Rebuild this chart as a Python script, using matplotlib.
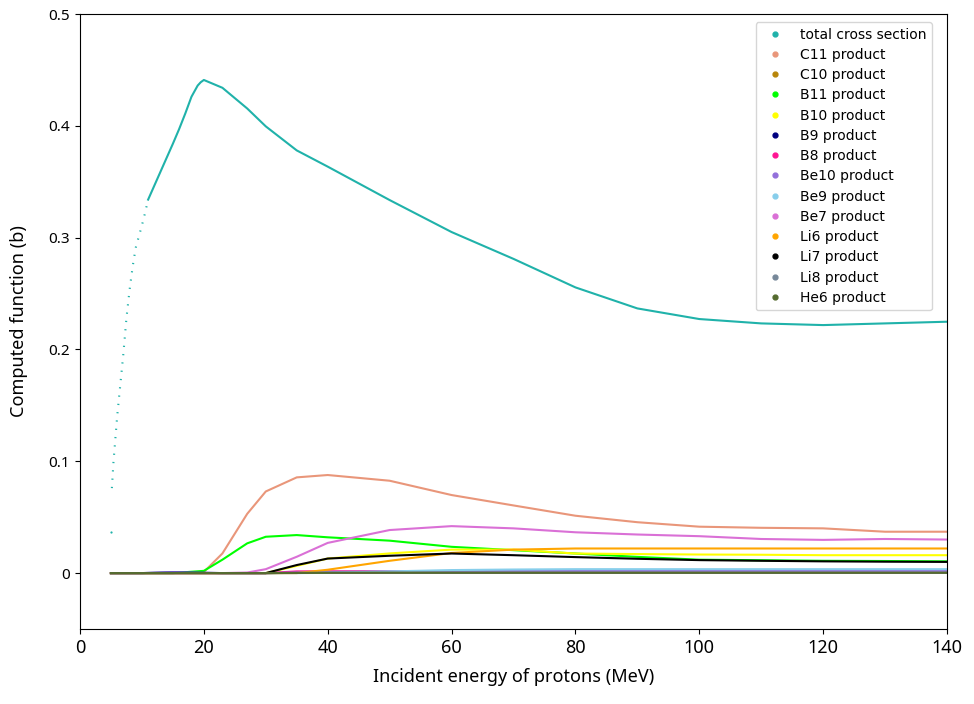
import numpy as np
import matplotlib
matplotlib.use("Agg")
import matplotlib.pyplot as plt
from matplotlib.lines import Line2D
from matplotlib.ticker import FuncFormatter

# total cross section (b) vs proton energy (MeV)
E_tot = [5.0, 5.15, 5.4, 6.0, 6.5, 7.0, 7.5, 8.0, 8.5, 9.0, 9.5, 10.0, 10.5, 11.0,
         13.0, 15.0, 16.0, 17.0, 18.0, 19.0, 19.5, 20.0, 23.0, 27.0, 30.0, 35.0,
         40.0, 50.0, 60.0, 70.0, 80.0, 90.0, 100.0, 110.0, 120.0, 130.0, 140.0]
sigma_tot = [0.037, 0.076, 0.099, 0.140, 0.168, 0.196, 0.228, 0.253, 0.274, 0.291,
             0.301, 0.311, 0.322, 0.334, 0.359, 0.384, 0.397, 0.411, 0.426, 0.436,
             0.439, 0.441, 0.434, 0.4155, 0.3995, 0.378, 0.3635, 0.3336, 0.305,
             0.281, 0.2555, 0.2367, 0.2272, 0.2233, 0.2218, 0.2233, 0.2248]

# product cross sections on a common energy grid
E_prod = [5, 10, 15, 20, 23, 27, 30, 35, 40, 50, 60, 70, 80, 90, 100, 110, 120, 130, 140]
C11 = [0, 0, 0, 0.001, 0.0176, 0.053, 0.073, 0.0856, 0.0877, 0.0826, 0.0698, 0.0605,
       0.0513, 0.0455, 0.0415, 0.0405, 0.040, 0.037, 0.037]
C10 = [0, 0, 0, 0, 0, 0, 0, 0.0002, 0.0004, 0.0005, 0.0005, 0.0005, 0.0005, 0.0005,
       0.0005, 0.0005, 0.0005, 0.0005, 0.0005]
B11 = [0, 0, 0, 0.002, 0.012, 0.0266, 0.0325, 0.034, 0.032, 0.029, 0.0235, 0.0205,
       0.0175, 0.0145, 0.012, 0.0115, 0.011, 0.0108, 0.0105]
B10 = [0, 0, 0, 0, 0, 0, 0, 0.0065, 0.013, 0.0176, 0.021, 0.021, 0.0175, 0.017,
       0.0166, 0.0164, 0.016, 0.016, 0.016]
B9 = [0, 0, 0.0008, 0.0003, 0, 0, 0, 0.0003, 0.0005, 0.0006, 0.0006, 0.0006, 0.0006,
      0.0006, 0.0006, 0.0006, 0.0006, 0.0006, 0.0006]
B8 = [0, 0, 0, 0, 0, 0, 0, 0.0015, 0.0016, 0.0016, 0.0016, 0.0016, 0.0016, 0.0016,
      0.0016, 0.0016, 0.0016, 0.0016, 0.0016]
Be10 = [0, 0, 0.0006, 0.0002, 0, 0, 0, 0.0005, 0.001, 0.0015, 0.0018, 0.002, 0.002,
        0.002, 0.002, 0.002, 0.002, 0.002, 0.002]
Be9 = [0, 0, 0, 0, 0, 0, 0, 0, 0.0002, 0.0015, 0.0027, 0.0032, 0.0035, 0.0035, 0.0035,
       0.0035, 0.0035, 0.0035, 0.0035]
Be7 = [0, 0, 0, 0, 0, 0.0005, 0.0035, 0.0146, 0.027, 0.0385, 0.042, 0.040, 0.0365,
       0.0345, 0.033, 0.0305, 0.0297, 0.0305, 0.030]
Li6 = [0, 0, 0, 0, 0, 0, 0, 0, 0.003, 0.011, 0.018, 0.021, 0.022, 0.022, 0.022, 0.022,
       0.022, 0.022, 0.022]
Li7 = [0, 0, 0, 0, 0, 0, 0, 0.0072, 0.013, 0.0155, 0.0175, 0.016, 0.0143, 0.0128,
       0.0116, 0.011, 0.0105, 0.0102, 0.010]
Li8 = [0, 0, 0, 0, 0, 0, 0, 0.0002, 0.0004, 0.0005, 0.0005, 0.0005, 0.0005, 0.0005,
       0.0005, 0.0005, 0.0005, 0.0005, 0.0005]
He6 = [0, 0, 0, 0, 0, 0, 0, 0.0001, 0.0002, 0.0003, 0.0003, 0.0003, 0.0003, 0.0003,
       0.0003, 0.0003, 0.0003, 0.0003, 0.0003]

products = [("C11 product", C11, "darksalmon"),
            ("C10 product", C10, "darkgoldenrod"),
            ("B11 product", B11, "lime"),
            ("B10 product", B10, "yellow"),
            ("B9 product", B9, "navy"),
            ("B8 product", B8, "deeppink"),
            ("Be10 product", Be10, "mediumpurple"),
            ("Be9 product", Be9, "skyblue"),
            ("Be7 product", Be7, "orchid"),
            ("Li6 product", Li6, "orange"),
            ("Li7 product", Li7, "black"),
            ("Li8 product", Li8, "lightslategray"),
            ("He6 product", He6, "darkolivegreen")]

fig = plt.figure(figsize=(9.74, 7.04), dpi=100)
ax = fig.add_axes([80 / 974, 1 - 629 / 704, 867 / 974, 615 / 704])

E_tot = np.array(E_tot)
sigma_tot = np.array(sigma_tot)
tot_col = "lightseagreen"
# steep low energy part looks dotted in the original
low = (E_tot >= 5.1) & (E_tot <= 11.0)
high = E_tot >= 11.0
ax.plot(E_tot[:1], sigma_tot[:1], "o", color=tot_col, ms=1.6, mew=0)
ax.plot(E_tot[low], sigma_tot[low], color=tot_col, lw=1.5, ls=(0, (0.6, 3.4)))
ax.plot(E_tot[high], sigma_tot[high], color=tot_col, lw=1.5)

handles = [Line2D([], [], ls="", marker="o", ms=3.5, color=tot_col,
                  label="total cross section")]
for name, vals, col in products:
    ax.plot(E_prod, vals, color=col, lw=1.5)
    handles.append(Line2D([], [], ls="", marker="o", ms=3.5, color=col, label=name))

ax.set_xlim(0, 140)
ax.set_ylim(-0.05, 0.5)
ax.set_xticks(np.arange(0, 141, 20))
ax.set_yticks([0, 0.1, 0.2, 0.3, 0.4, 0.5])
ax.yaxis.set_major_formatter(FuncFormatter(lambda v, p: "%g" % v))

lab_font = {"family": "Noto Sans", "size": 13}
ax.set_xlabel("Incident energy of protons (MeV)", fontdict=lab_font, labelpad=8)
ax.set_ylabel("Computed function (b)", fontdict=lab_font, labelpad=15)
for t in ax.get_xticklabels():
    t.set_fontfamily("Noto Sans")
    t.set_fontsize(13)
for t in ax.get_yticklabels():
    t.set_fontfamily("Noto Sans")
    t.set_fontsize(11)

ax.legend(handles=handles, loc="upper right", fontsize=10, labelspacing=0.45,
          bbox_to_anchor=((932 - 80) / 867, (629 - 22) / 615), borderaxespad=0)

fig.savefig("out.png", dpi=100)
